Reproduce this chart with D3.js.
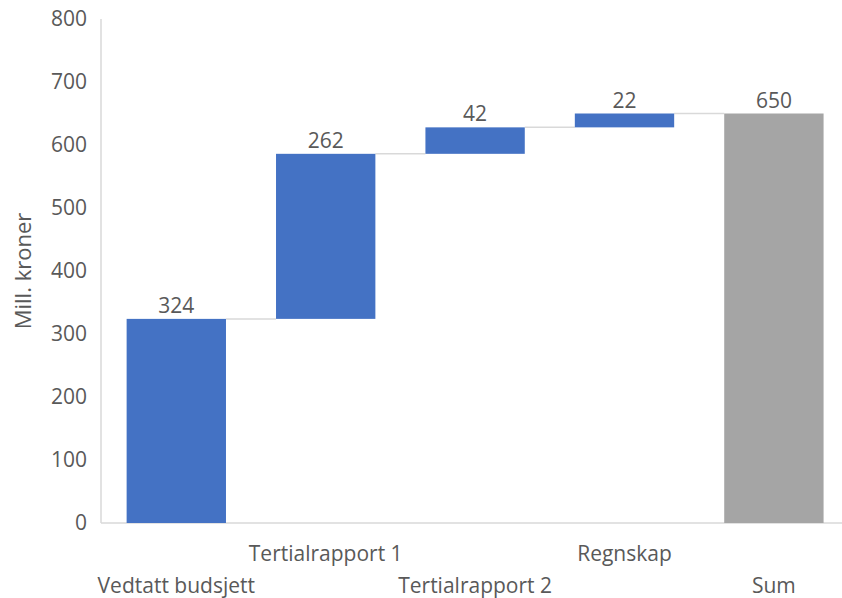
<!DOCTYPE html>
<html>
<head>
<meta charset="utf-8">
<script src="https://cdn.jsdelivr.net/npm/d3@7"></script>
<style>
  body { margin: 0; background: #fff; }
  text { font-family: "Open Sans", Lato, sans-serif; fill: #595959; }
</style>
</head>
<body>
<div id="chart"></div>
<script>
var categories = ["Vedtatt budsjett", "Tertialrapport 1", "Tertialrapport 2", "Regnskap", "Sum"];
var values = [324, 262, 42, 22, 650];
var isTotal = [false, false, false, false, true];
var yTicks = [0, 100, 200, 300, 400, 500, 600, 700, 800];

var width = 842, height = 598;

var svg = d3.select("#chart").append("svg")
  .attr("width", width)
  .attr("height", height);

// build waterfall steps
var run = 0;
var steps = values.map(function (v, i) {
  var s;
  if (isTotal[i]) { s = { start: 0, end: v }; run = v; }
  else { s = { start: run, end: run + v }; run += v; }
  s.name = categories[i]; s.value = v; s.total = isTotal[i];
  return s;
});

var x = d3.scaleBand().domain(categories).range([101.6, 848.6])
  .paddingInner(0.335).paddingOuter(0.1675);
var y = d3.scaleLinear().domain([0, 800]).range([523, 19]);

// axis lines
svg.append("line").attr("x1", 101).attr("x2", 101).attr("y1", 19).attr("y2", 523)
  .attr("stroke", "#d9d9d9").attr("stroke-width", 1.5);
svg.append("line").attr("x1", 101).attr("x2", 842).attr("y1", 523).attr("y2", 523)
  .attr("stroke", "#d9d9d9").attr("stroke-width", 1.5);

// y tick labels
svg.selectAll(".ytick").data(yTicks).enter().append("text")
  .attr("x", 87).attr("y", function (d) { return y(d); })
  .attr("dy", "0.35em")
  .attr("text-anchor", "end")
  .style("font-size", "21px")
  .text(function (d) { return d; });

// y title
svg.append("text")
  .attr("transform", "translate(23,271) rotate(-90)")
  .attr("text-anchor", "middle")
  .attr("dy", "0.35em")
  .style("font-size", "22px")
  .text("Mill. kroner");

// connectors
svg.selectAll(".conn").data(steps.slice(0, -1)).enter().append("line")
  .attr("x1", function (d) { return x(d.name) + x.bandwidth(); })
  .attr("x2", function (d, i) { return x(categories[i + 1]); })
  .attr("y1", function (d) { return y(d.end); })
  .attr("y2", function (d) { return y(d.end); })
  .attr("stroke", "#d9d9d9").attr("stroke-width", 1.5);

// bars
svg.selectAll(".bar").data(steps).enter().append("rect")
  .attr("x", function (d) { return x(d.name); })
  .attr("width", x.bandwidth())
  .attr("y", function (d) { return y(Math.max(d.start, d.end)); })
  .attr("height", function (d) { return Math.abs(y(d.start) - y(d.end)); })
  .attr("fill", function (d) { return d.total ? "#a5a5a5" : "#4472c4"; });

// value labels
svg.selectAll(".val").data(steps).enter().append("text")
  .attr("x", function (d) { return x(d.name) + x.bandwidth() / 2; })
  .attr("y", function (d) { return y(Math.max(d.start, d.end)) - 6; })
  .attr("text-anchor", "middle")
  .style("font-size", "21px")
  .text(function (d) { return d.value; });

// category labels, staggered
svg.selectAll(".cat").data(categories).enter().append("text")
  .attr("x", function (d) { return x(d) + x.bandwidth() / 2; })
  .attr("y", function (d, i) { return i % 2 === 0 ? 586 : 554; })
  .attr("dy", "0.35em")
  .attr("text-anchor", "middle")
  .style("font-size", "21px")
  .text(function (d) { return d; });
</script>
</body>
</html>
